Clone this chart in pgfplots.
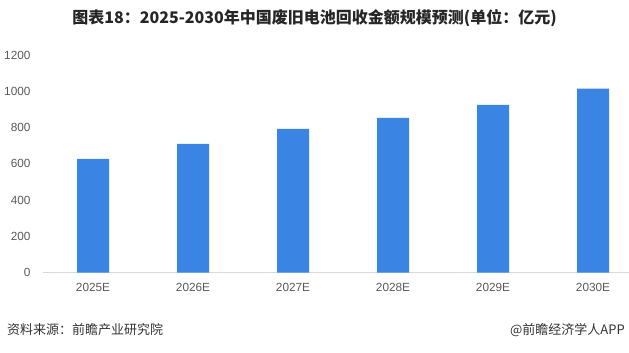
\documentclass[border=0pt]{standalone}
\usepackage{fontspec}
\setmainfont{Liberation Sans}
\newfontfamily\cjk{Noto Sans CJK SC}
\usepackage{pgfplots}
\pgfplotsset{compat=1.18}
\definecolor{barblue}{HTML}{3A84E3}
\definecolor{ticktext}{HTML}{595959}
\definecolor{axisgray}{HTML}{D9D9D9}
\definecolor{foot}{HTML}{333333}
\begin{document}
\begin{tikzpicture}[x=1pt,y=1pt]
\path[use as bounding box] (0,0) rectangle (629,353);
\begin{axis}[
  at={(43pt,80.3pt)}, anchor=south west,
  scale only axis, width=586pt, height=217.7pt,
  xmin=-0.5, xmax=5.36, ymin=0, ymax=1200,
  ytick={0,200,...,1200},
  xtick={0,...,5},
  xticklabels={2025E,2026E,2027E,2028E,2029E,2030E},
  axis x line*=bottom, axis y line*=left,
  y axis line style={draw=none},
  x axis line style={draw=axisgray, line width=0.8pt, -},
  major tick length=0pt,
  /pgf/number format/assume math mode=true,
  /pgf/number format/1000 sep={},
  tick label style={font=\fontsize{11.8}{13}\selectfont, text=ticktext},
  yticklabel style={xshift=-9pt},
  xticklabel style={yshift=-7pt},
  clip=false,
]
\addplot[ybar, bar width=32pt, draw=none, fill=barblue] coordinates {
  (0,628) (1,710) (2,793) (3,854) (4,925) (5,1014)
};
\end{axis}
\node[font=\cjk\bfseries\fontsize{16}{18}\selectfont, text=black!85] at (314.5,335) {图表18：2025-2030年中国废旧电池回收金额规模预测(单位：亿元)};
\node[anchor=west, font=\cjk\fontsize{13}{15}\selectfont, text=foot, inner sep=0pt] at (7,23) {资料来源：前瞻产业研究院};
\node[anchor=east, font=\cjk\fontsize{13}{15}\selectfont, text=foot, inner sep=0pt] at (625,23) {@前瞻经济学人APP};
\end{tikzpicture}
\end{document}
